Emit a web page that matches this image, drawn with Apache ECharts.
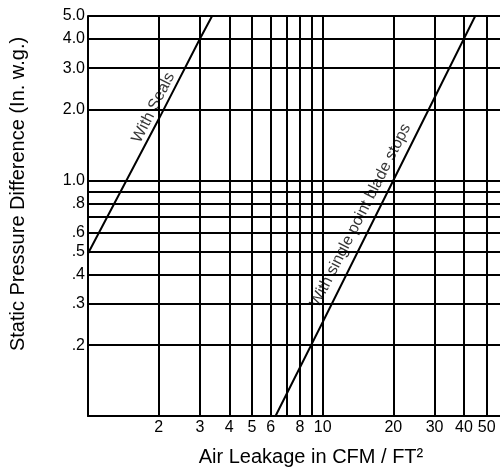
<!DOCTYPE html>
<html><head><meta charset="utf-8">
<script src="https://cdn.jsdelivr.net/npm/echarts@6/dist/echarts.min.js"></script>
<style>html,body{margin:0;padding:0;background:#fff}#c{width:500px;height:472px}</style>
</head><body><div id="c"></div>
<script>
const xGridValues = [1,2,3,4,5,6,7,8,9,10,20,30,40,50];
const xLabelValues = [2,3,4,5,6,8,10,20,30,40,50];
const xLabelTexts = ['2','3','4','5','6','8','10','20','30','40','50'];
const yGridValues = [0.2,0.3,0.4,0.5,0.6,0.7,0.8,0.9,1,2,3,4,5];
const yLabelValues = [0.2,0.3,0.4,0.5,0.6,0.8,1,2,3,4,5];
const yLabelTexts = ['.2','.3','.4','.5','.6','.8','1.0','2.0','3.0','4.0','5.0'];
const withSeals = [[1,0.49],[2,1.82],[3,4.0],[3.38,5.0]];
const bladeStops = [[6.3,0.1],[10,0.25],[20,1.0],[40,4.0],[44.7,5.0]];
const annotations = [
  {name:'With Seals', value:[1.9,2.04]},
  {name:'With single point blade stops', value:[14.5,0.71]}
];
const xName = 'Air Leakage in CFM / FT²';
const yName = 'Static Pressure Difference (In. w.g.)';

function lookup(vals, texts, v){
  for (let i=0;i<vals.length;i++){ if (Math.abs(vals[i]-v) < 1e-6*Math.max(1,v)) return texts[i]; }
  return '';
}
const FONT = 'Arial, "Liberation Sans", sans-serif';
const chart = echarts.init(document.getElementById('c'), null, {renderer:'canvas'});
chart.setOption({
  animation:false,
  backgroundColor:'#fff',
  grid:{left:87, top:16, right:0, bottom:54, containLabel:false},
  xAxis:{
    type:'log', logBase:10, min:1, max:57,
    name:xName, nameLocation:'middle', nameGap:31,
    nameTextStyle:{fontFamily:FONT, fontSize:20, color:'#000', padding:[0,0,0,34]},
    axisLine:{show:true, onZero:false, lineStyle:{color:'#000', width:2}},
    axisTick:{show:false, customValues:xGridValues},
    splitLine:{show:true, lineStyle:{color:'#000', width:2}},
    axisLabel:{customValues:xLabelValues, margin:4, fontFamily:FONT, fontSize:16, color:'#000',
      formatter:(v)=>lookup(xLabelValues,xLabelTexts,v)}
  },
  yAxis:{
    type:'log', logBase:10, min:0.1, max:5,
    name:yName, nameLocation:'middle', nameGap:60, nameRotate:90,
    nameTextStyle:{fontFamily:FONT, fontSize:20, color:'#000', padding:[0,0,0,44]},
    axisLine:{show:true, onZero:false, lineStyle:{color:'#000', width:2}},
    axisTick:{show:false, customValues:yGridValues},
    splitLine:{show:true, lineStyle:{color:'#000', width:2}},
    axisLabel:{customValues:yLabelValues, margin:3, fontFamily:FONT, fontSize:16, color:'#000',
      formatter:(v)=>lookup(yLabelValues,yLabelTexts,v)}
  },
  series:[
    {type:'line', name:'With Seals', data:withSeals, showSymbol:false, symbol:'none',
      lineStyle:{color:'#000', width:2}, z:5},
    {type:'line', name:'With single point blade stops', data:bladeStops, showSymbol:false, symbol:'none',
      lineStyle:{color:'#000', width:2}, z:5},
    {type:'scatter', data:annotations, symbolSize:0, z:6,
      label:{show:true, position:'inside', rotate:63, formatter:(p)=>p.name,
        fontFamily:FONT, fontSize:16, color:'#000'}}
  ]
});
</script></body></html>
